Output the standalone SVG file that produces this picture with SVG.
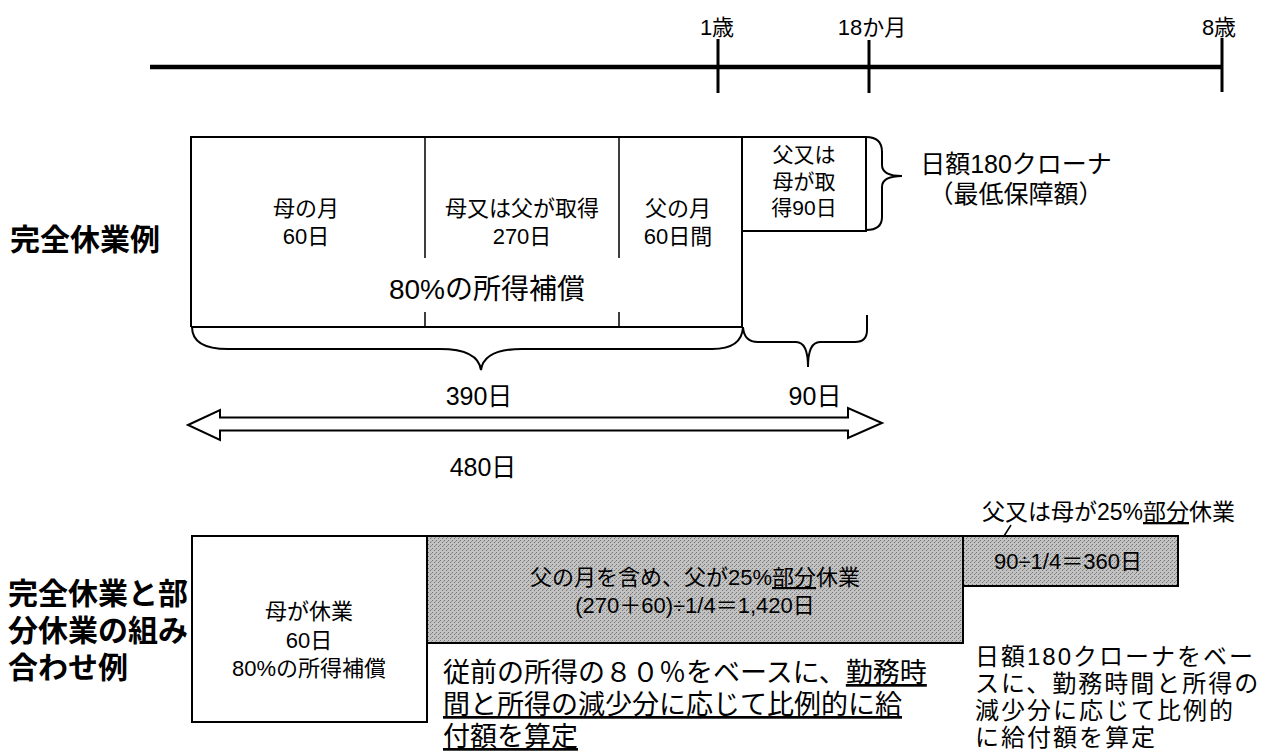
<svg xmlns="http://www.w3.org/2000/svg" width="1281" height="753" viewBox="0 0 1281 753">
<style>
.t{font-family:"Liberation Sans","Noto Sans CJK JP",sans-serif;fill:#000}
.c{text-anchor:middle}
.b{font-weight:bold}
.ln{stroke:#000;fill:none}
.box{fill:#fff;stroke:#000;stroke-width:2}
.gray{fill:url(#dots);stroke:#000;stroke-width:2}
</style>
<defs>
<pattern id="dots" width="4" height="4" patternUnits="userSpaceOnUse">
<rect width="4" height="4" fill="#c2c2c2"/>
<rect x="0" y="0" width="1" height="1" fill="#767676"/>
<rect x="2" y="2" width="1" height="1" fill="#767676"/>
<rect x="3" y="1" width="1" height="1" fill="#959595"/>
</pattern>
</defs>
<rect width="1281" height="753" fill="#fff"/>

<g id="timeline">
<line class="ln" x1="150" y1="67" x2="1223" y2="67" stroke-width="4.5"/>
<line class="ln" x1="718" y1="39" x2="718" y2="93" stroke-width="3"/>
<line class="ln" x1="869" y1="40" x2="869" y2="93" stroke-width="3"/>
<line class="ln" x1="1222" y1="38" x2="1222" y2="92" stroke-width="3"/>
<text class="t c" x="717" y="35" font-size="22">1歳</text>
<text class="t c" x="872" y="35" font-size="22">18か月</text>
<text class="t c" x="1219" y="35" font-size="22">8歳</text>
</g>

<g id="label-full">
<text class="t b" x="10" y="250" font-size="30">完全休業例</text>
</g>

<g id="full-main">
<path class="ln" stroke-width="2" d="M191,327 L191,137 L866,137 M742,137 L742,327 M191,327 L742,327"/>
<path class="ln" stroke-width="1.5" d="M425,137 L425,258 M425,312 L425,327 M619,137 L619,258 M619,312 L619,327"/>
<text class="t c" x="306" y="216" font-size="22">母の月</text>
<text class="t c" x="306" y="244" font-size="22">60日</text>
<text class="t c" x="522" y="216" font-size="22">母又は父が取得</text>
<text class="t c" x="522" y="244" font-size="22">270日</text>
<text class="t c" x="678" y="216" font-size="22">父の月</text>
<text class="t c" x="678" y="244" font-size="22">60日間</text>
<text class="t c" x="487" y="299" font-size="28">80%の所得補償</text>
</g>

<g id="full-extra">
<path class="ln" stroke-width="2" d="M742,231 L866,231 L866,137"/>
<text class="t c" x="804" y="162" font-size="21">父又は</text>
<text class="t c" x="804" y="189" font-size="21">母が取</text>
<text class="t c" x="804" y="215" font-size="21">得90日</text>
</g>

<g id="min-label">
<text class="t c" x="1016" y="173" font-size="25">日額180クローナ</text>
<text class="t c" x="1016" y="203" font-size="25">（最低保障額）</text>
</g>

<g id="connectors">
<path class="ln" stroke-width="2" d="M866,137 Q882,137 882,152 L882,165 Q882,176 902,176 Q882,176 882,187 L882,217 Q882,230 866,230"/>
<path class="ln" stroke-width="2" d="M192,327 Q192,349 228,349 L440,349 Q478,349 481,370 Q484,349 522,349 L712,349 Q742,349 743,327"/>
<path class="ln" stroke-width="2" d="M743,327 Q744,342 758,342 L796,342 Q808,342 808,367 Q808,342 820,342 L855,342 Q867,342 867,330 L867,315"/>
<polygon fill="#fff" stroke="#000" stroke-width="2" points="188,425 220,410 220,417.5 848,417.5 848,408 882,423 848,438 848,430.5 220,430.5 220,440"/>
<line class="ln" stroke-width="1.5" x1="1011" y1="525" x2="1004" y2="536"/>
</g>

<g id="totals">
<text class="t c" x="479" y="405" font-size="25">390日</text>
<text class="t c" x="815" y="405" font-size="25">90日</text>
<text class="t c" x="483" y="476" font-size="25">480日</text>
</g>

<g id="label-partial">
<text class="t b" x="8" y="604" font-size="30">完全休業と部</text>
<text class="t b" x="8" y="641" font-size="30">分休業の組み</text>
<text class="t b" x="8" y="678" font-size="30">合わせ例</text>
</g>

<g id="mother-box">
<rect class="box" x="192" y="536" width="235" height="186"/>
<text class="t c" x="309" y="619" font-size="22">母が休業</text>
<text class="t c" x="309" y="648" font-size="22">60日</text>
<text class="t c" x="309" y="676" font-size="22">80%の所得補償</text>
</g>

<g id="father-partial">
<rect class="gray" x="427" y="536" width="536" height="107"/>
<text class="t c" x="695" y="585" font-size="22">父の月を含め、父が25%<tspan text-decoration="underline">部分</tspan>休業</text>
<text class="t c" x="695" y="613" font-size="22">(270＋60)÷1/4＝1,420日</text>
</g>

<g id="either-partial">
<rect class="gray" x="963" y="536" width="215" height="50"/>
<text class="t c" x="1068" y="569" font-size="22">90÷1/4＝360日</text>
<text class="t" x="1235" y="520" font-size="23" text-anchor="end">父又は母が25%<tspan text-decoration="underline">部分</tspan>休業</text>
</g>

<g id="note-left">
<text class="t" x="443" y="682" font-size="27">従前の所得の８０％をベースに、<tspan text-decoration="underline">勤務時</tspan></text>
<text class="t" x="443" y="714" font-size="27" text-decoration="underline">間と所得の減少分に応じて比例的に給</text>
<text class="t" x="443" y="746" font-size="27" text-decoration="underline">付額を算定</text>
</g>

<g id="note-right">
<text class="t" x="975" y="665" font-size="24" letter-spacing="2">日額180クローナをベー</text>
<text class="t" x="975" y="692" font-size="24" letter-spacing="2">スに、勤務時間と所得の</text>
<text class="t" x="975" y="719" font-size="24" letter-spacing="2">減少分に応じて比例的</text>
<text class="t" x="975" y="746" font-size="24" letter-spacing="2">に給付額を算定</text>
</g>
</svg>
